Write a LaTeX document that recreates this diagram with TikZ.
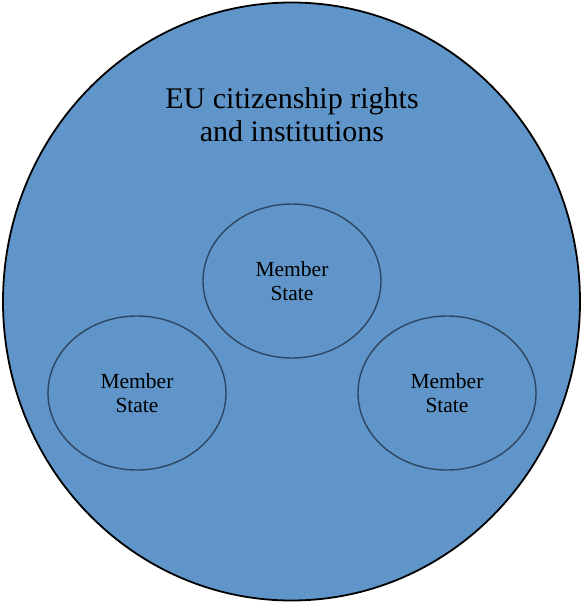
\documentclass[tikz,border=0pt]{standalone}
\usepackage{fontspec}
\setmainfont{Liberation Serif}
\usepackage{tikz}
\usetikzlibrary{shapes.geometric,positioning}

\definecolor{eublue}{RGB}{95,149,201}
\definecolor{rimblue}{RGB}{45,70,98}

\tikzset{
  union/.style = {ellipse, draw=black, line width=1.8pt, fill=eublue,
                  minimum width=577pt, minimum height=598pt, inner sep=0pt},
  memberstate/.style = {ellipse, draw=rimblue, line width=1.4pt, fill=eublue,
                  minimum width=178pt, minimum height=154pt, inner sep=0pt,
                  align=center, font=\fontsize{21.5}{24.5}\selectfont}
}

\begin{document}
\begin{tikzpicture}[x=1pt, y=-1pt]
    \useasboundingbox (0,0) rectangle (581,603);
    \node [union] (eu) at (291.5,301.5) {};
    \node [align=center, font=\fontsize{30}{33}\selectfont] (title) at (292,115)
        {EU citizenship rights\\and institutions};
    \node [memberstate] (ms1) at (292,281) {Member\\State};
    \node [memberstate] (ms2) at (137,393) {Member\\State};
    \node [memberstate] (ms3) at (447,393) {Member\\State};
\end{tikzpicture}
\end{document}
